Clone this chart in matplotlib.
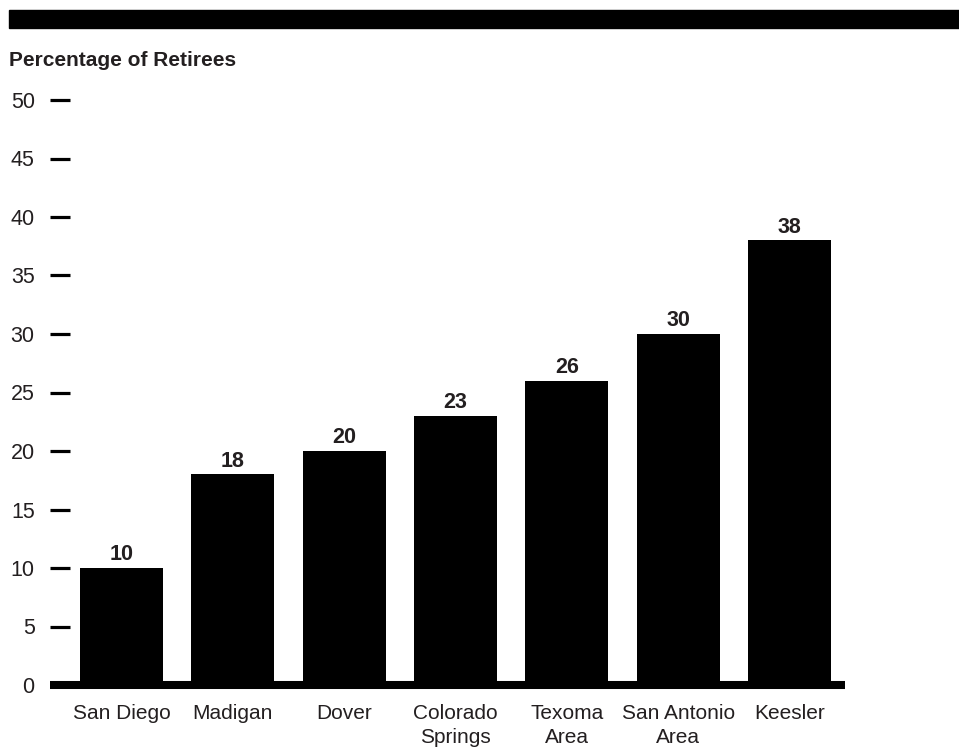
import matplotlib.pyplot as plt
from matplotlib.patches import Rectangle

# retiree share by market area
areas = ["San Diego", "Madigan", "Dover", "Colorado\nSprings", "Texoma\nArea",
         "San Antonio\nArea", "Keesler"]
pct = [10, 18, 20, 23, 26, 30, 38]
yticks = [0, 5, 10, 15, 20, 25, 30, 35, 40, 45, 50]

ink = "#231f20"
plt.rcParams["font.family"] = ["Liberation Sans", "DejaVu Sans"]

fig = plt.figure(figsize=(9.59, 7.48), dpi=100)
ax = fig.add_axes([50 / 959, 63 / 748, 795 / 959, 585 / 748])

xs = list(range(len(areas)))
ax.bar(xs, pct, width=0.746, color="black", zorder=2)
for x, v in zip(xs, pct):
    ax.annotate(str(v), (x, v), xytext=(0, 2), textcoords="offset points",
                ha="center", va="bottom", fontsize=15.5, fontweight="bold",
                color=ink)

ax.set_xlim(-0.642, 6.499)
ax.set_ylim(0, 50)
ax.set_yticks(yticks)
ax.set_xticks(xs)
ax.set_xticklabels(areas, fontsize=15, color=ink, linespacing=1.32)
ax.tick_params(axis="x", length=0, pad=14)
ax.tick_params(axis="y", direction="in", length=14.5, width=2.3, pad=11,
               labelsize=15.5, labelcolor=ink, color="black")

for side in ["left", "right", "top"]:
    ax.spines[side].set_visible(False)
ax.spines["bottom"].set_linewidth(5.8)
ax.spines["bottom"].set_capstyle("butt")
ax.spines["bottom"].set_zorder(3)

# black band across the top
fig.patches.append(Rectangle((9 / 959, 720 / 748), 1, 18 / 748,
                             transform=fig.transFigure, color="black"))
fig.text(9 / 959, 688 / 748, "Percentage of Retirees", fontsize=15,
         fontweight="bold", color=ink, va="center", ha="left")

fig.savefig("out.png", dpi=100)
